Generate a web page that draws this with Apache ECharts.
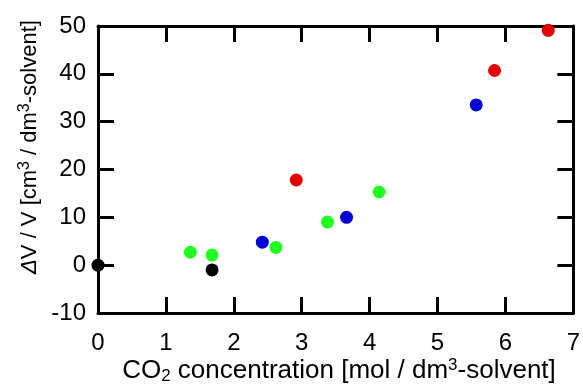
<!DOCTYPE html>
<html><head><meta charset="utf-8">
<script src="https://cdn.jsdelivr.net/npm/echarts@6/dist/echarts.min.js"></script>
<style>html,body{margin:0;padding:0;background:#fff}#c{width:583px;height:390px}</style>
</head><body><div id="c"></div>
<script>
// Data (x: CO2 concentration, y: ΔV/V)
const blackX = [0, 1.68];
const blackY = [0, -1.0];
const greenX = [1.36, 1.68, 2.62, 3.38, 4.14];
const greenY = [2.7, 2.1, 3.7, 9.0, 15.3];
const blueX = [2.42, 3.66, 5.57];
const blueY = [4.8, 10.0, 33.5];
const redX = [2.92, 5.84, 6.63];
const redY = [17.8, 40.7, 49.1];
const xTicks = [0, 1, 2, 3, 4, 5, 6, 7];
const yTicks = [-10, 0, 10, 20, 30, 40, 50];

const zip = (a, b) => a.map((v, i) => [v, b[i]]);
const FONT = 'Liberation Sans, Arial, sans-serif';
const chart = echarts.init(document.getElementById('c'), null, {renderer: 'canvas'});

const line = {show: true, onZero: false, lineStyle: {color: '#000', width: 3}};
const tick = {show: true, inside: true, length: 16, lineStyle: {color: '#000', width: 3}};
const baseX = {type: 'value', min: xTicks[0], max: xTicks[xTicks.length - 1], interval: 1,
  axisLine: line, axisTick: tick, splitLine: {show: false}};
const baseY = {type: 'value', min: yTicks[0], max: yTicks[yTicks.length - 1], interval: 10,
  axisLine: line, axisTick: tick, splitLine: {show: false}};

const mk = (x, y, color) => ({type: 'scatter', data: zip(x, y), symbolSize: 13,
  itemStyle: {color: color, opacity: 1}, z: 5});

chart.setOption({
  animation: false,
  grid: {left: 98, right: 5, top: 26, bottom: 77, containLabel: false},
  xAxis: [
    Object.assign({}, baseX, {position: 'bottom',
      axisLabel: {show: true, fontSize: 24, color: '#000', fontFamily: FONT, margin: 18}}),
    Object.assign({}, baseX, {position: 'top', axisLabel: {show: false}})
  ],
  yAxis: [
    Object.assign({}, baseY, {position: 'left',
      axisLabel: {show: true, fontSize: 24, color: '#000', fontFamily: FONT, margin: 12}}),
    Object.assign({}, baseY, {position: 'right', axisLabel: {show: false}})
  ],
  series: [
    mk(greenX, greenY, '#22ff22'),
    mk(blueX, blueY, '#0000d4'),
    mk(redX, redY, '#e00000'),
    mk(blackX, blackY, '#000000')
  ],
  graphic: [
    {type: 'text', x: 339, y: 371, z: 10,
      style: {text: '{a|CO}{sub|2}{a| concentration [mol / dm}{sup|3}{a|-solvent]}',
        align: 'center', verticalAlign: 'middle',
        rich: {
          a: {fontSize: 26, fontFamily: FONT, fill: '#000', lineHeight: 28},
          sub: {fontSize: 17, fontFamily: FONT, fill: '#000', lineHeight: 17, padding: [16, 0, 0, 0], verticalAlign: 'bottom'},
          sup: {fontSize: 17, fontFamily: FONT, fill: '#000', lineHeight: 17, padding: [0, 0, 6, 0], verticalAlign: 'top'}
        }}},
    {type: 'text', x: 30, y: 147, rotation: Math.PI / 2, z: 10,
      style: {text: '{i|Δ}{a|V / V [cm}{sup|3}{a| / dm}{sup|3}{a|-solvent]}',
        align: 'center', verticalAlign: 'middle',
        rich: {
          i: {fontSize: 22, fontFamily: FONT, fill: '#000', fontStyle: 'italic', lineHeight: 26},
          a: {fontSize: 22, fontFamily: FONT, fill: '#000', lineHeight: 26},
          sup: {fontSize: 16, fontFamily: FONT, fill: '#000', lineHeight: 16, padding: [0, 0, 6, 0], verticalAlign: 'top'}
        }}}
  ]
});
</script></body></html>
